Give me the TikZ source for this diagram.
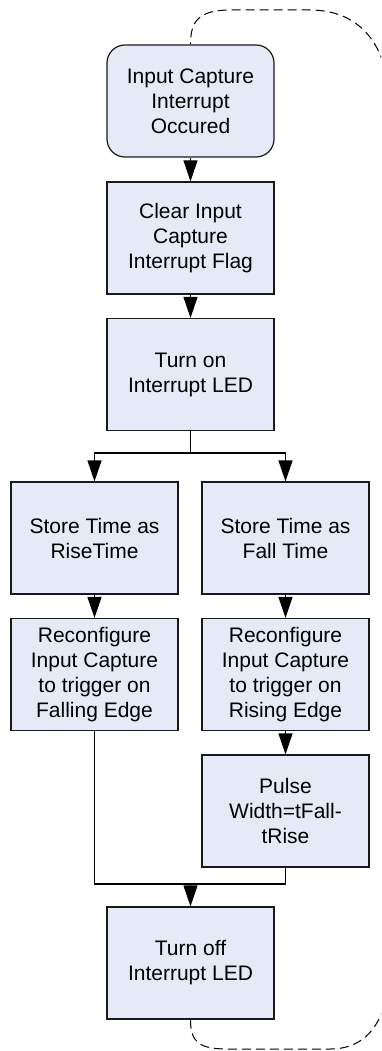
\documentclass[tikz,border=0pt]{standalone}
\usepackage{fontspec}
\setmainfont{Liberation Sans}
\usetikzlibrary{arrows.meta}
\definecolor{boxfill}{RGB}{229,235,246}
\definecolor{boxline}{RGB}{25,25,25}
\tikzset{
  stepbox/.style={draw=boxline, fill=boxfill, line width=1.2pt, minimum width=167pt, minimum height=112pt, inner sep=0pt, align=center, font=\fontsize{21}{25}\selectfont},
  startbox/.style={stepbox, rounded corners=18pt},
  arr/.style={line width=1.2pt, -{Triangle[length=21pt,width=14pt]}},
  conn/.style={line width=1.2pt},
  loopline/.style={line width=1pt, dash pattern=on 9pt off 5pt}
}
\begin{document}
\begin{tikzpicture}[x=1pt,y=-1pt]
\useasboundingbox (0,0) rectangle (381,1051);
\clip (0,0) rectangle (381,1051);
\node[startbox] (b1) at (190.5,101) {Input Capture\\Interrupt\\Occured};
\node[stepbox] (b2) at (190.5,238) {Clear Input\\Capture\\Interrupt Flag};
\node[stepbox] (b3) at (190.5,374.5) {Turn on\\Interrupt LED};
\node[stepbox] (b4l) at (94.5,538) {Store Time as\\RiseTime};
\node[stepbox] (b4r) at (285.5,538) {Store Time as\\Fall Time};
\node[stepbox] (b5l) at (94.5,674.5) {Reconfigure\\Input Capture\\to trigger on\\Falling Edge};
\node[stepbox] (b5r) at (285.5,674.5) {Reconfigure\\Input Capture\\to trigger on\\Rising Edge};
\node[stepbox] (b6) at (285.5,811) {Pulse\\Width=tFall-\\tRise};
\node[stepbox] (b7) at (190.5,963) {Turn off\\Interrupt LED};
\coordinate (split) at (190.5,453);
\coordinate (merge) at (190.5,884);
\draw[arr] (b1.south) -- (b2.north);
\draw[arr] (b2.south) -- (b3.north);
\draw[conn] (b3.south) -- (split);
\draw[arr] (split) -| (b4l.north);
\draw[arr] (split) -| (b4r.north);
\draw[arr] (b4l.south) -- (b5l.north);
\draw[arr] (b4r.south) -- (b5r.north);
\draw[arr] (b5r.south) -- (b6.north);
\draw[conn] (b5l.south) |- (merge);
\draw[conn] (b6.south) |- (merge);
\draw[arr] (merge) -- (b7.north);
\draw[loopline] (b7.south) .. controls (190.5,1043) and (200,1049) .. (228,1049)
  -- (330,1049) .. controls (368,1049) and (390,1020) .. (390,960)
  -- (390,110) .. controls (390,45) and (360,10) .. (310,10)
  -- (230,10) .. controls (198,10) and (190.5,22) .. (b1.north);
\end{tikzpicture}
\end{document}
